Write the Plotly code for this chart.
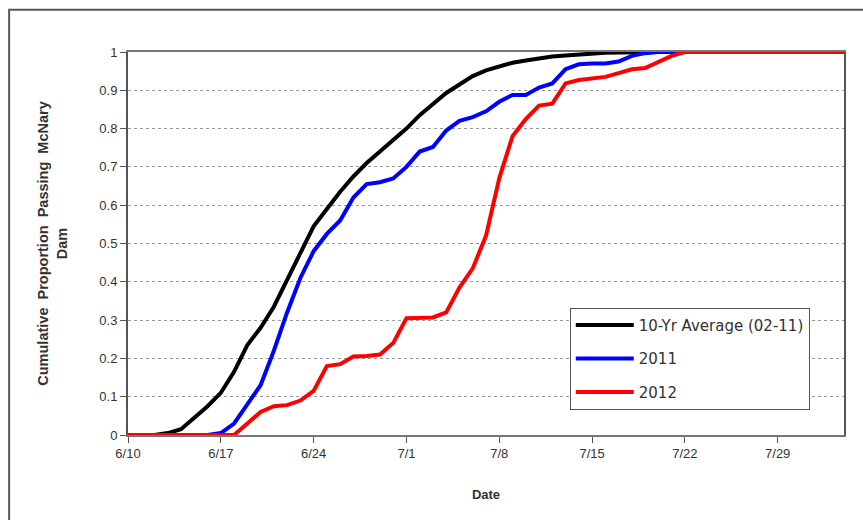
import pandas as pd
import plotly.graph_objects as go

# Daily dates from 6/10 to 8/3
dates = pd.date_range("2012-06-10", "2012-08-03", freq="D")

# Cumulative proportion passing McNary Dam, one value per day
avg_10yr = [0, 0, 0, 0.005, 0.015, 0.045, 0.075, 0.11, 0.165, 0.235,
            0.28, 0.335, 0.405, 0.48, 0.545, 0.59, 0.635, 0.675, 0.71, 0.74,
            0.77, 0.80, 0.835, 0.865, 0.893, 0.915, 0.937, 0.952, 0.962, 0.972,
            0.978, 0.984, 0.988, 0.991, 0.994, 0.997, 0.998, 0.999, 1.0, 1.0,
            1.0, 1.0, 1.0, 1.0, 1.0, 1.0, 1.0, 1.0, 1.0, 1.0,
            1.0, 1.0, 1.0, 1.0, 1.0]
y2011 = [0, 0, 0, 0, 0, 0, 0, 0.005, 0.03, 0.08,
         0.13, 0.22, 0.32, 0.41, 0.48, 0.525, 0.56, 0.62, 0.655, 0.66,
         0.67, 0.70, 0.74, 0.752, 0.795, 0.82, 0.83, 0.845, 0.87, 0.888,
         0.888, 0.907, 0.918, 0.955, 0.968, 0.97, 0.97, 0.975, 0.99, 0.997,
         1.0, 1.0, 1.0, 1.0, 1.0, 1.0, 1.0, 1.0, 1.0, 1.0,
         1.0, 1.0, 1.0, 1.0, 1.0]
y2012 = [0, 0, 0, 0, 0, 0, 0, 0, 0, 0.03,
         0.06, 0.075, 0.078, 0.09, 0.115, 0.18, 0.185, 0.205, 0.206, 0.21,
         0.24, 0.305, 0.305, 0.307, 0.32, 0.385, 0.435, 0.52, 0.67, 0.78,
         0.825, 0.86, 0.865, 0.918, 0.927, 0.93, 0.935, 0.945, 0.955, 0.958,
         0.975, 0.99, 1.0, 1.0, 1.0, 1.0, 1.0, 1.0, 1.0, 1.0,
         1.0, 1.0, 1.0, 1.0, 1.0]

series = [
    ("10-Yr Average (02-11)", avg_10yr, "#000000"),
    ("2011", y2011, "#0000ff"),
    ("2012", y2012, "#ff0000"),
]

FONT = "Liberation Sans, Arial, sans-serif"
TXT = "#333333"

fig = go.Figure()
for i, (name, vals, color) in enumerate(series):
    fig.add_trace(go.Scatter(
        x=dates, y=vals, name=name, mode="lines",
        line=dict(color=color, width=4),
        legendgroup=f"g{i}",
    ))

fig.update_layout(
    width=863, height=520,
    margin=dict(l=128, r=19, t=52, b=85),
    paper_bgcolor="white", plot_bgcolor="white",
    font=dict(family=FONT, size=13, color=TXT),
    showlegend=True,
    legend=dict(
        x=0.617, y=0.332, xanchor="left", yanchor="top",
        bordercolor="#555555", borderwidth=1, bgcolor="white",
        font=dict(family="DejaVu Sans, sans-serif", size=15, color=TXT),
        traceorder="grouped", tracegroupgap=11,
        itemwidth=58,
    ),
    xaxis=dict(
        range=[dates[0], dates[-1]],
        tick0="2012-06-10", dtick=7 * 86400000, tickformat="%-m/%-d",
        showgrid=False, zeroline=False,
        showline=True, linecolor="#777777", linewidth=1.5, mirror=True,
        ticks="outside", ticklen=6, tickcolor="#555555",
        tickfont=dict(size=13, color=TXT),
        title=dict(text="<b>Date</b>", font=dict(size=13, color=TXT), standoff=30),
    ),
    yaxis=dict(
        range=[0, 1], dtick=0.1, tickformat="~g",
        showgrid=True, gridcolor="#9a9a9a", griddash="dot", gridwidth=1,
        zeroline=False,
        showline=True, linecolor="#555555", linewidth=2, mirror=True,
        ticks="outside", ticklen=6, tickcolor="#555555",
        tickfont=dict(size=13, color=TXT),
        title=dict(text="<b>Cumulative  Proportion  Passing  McNary<br>Dam</b>",
                   font=dict(size=14.5, color=TXT), standoff=28),
    ),
)

# Outer chart frame
fig.add_shape(type="rect", xref="paper", yref="paper",
              x0=-0.166, x1=1.04, y0=-0.26, y1=1.110,
              line=dict(color="#555555", width=2), layer="below")

fig.write_html("out.html")
